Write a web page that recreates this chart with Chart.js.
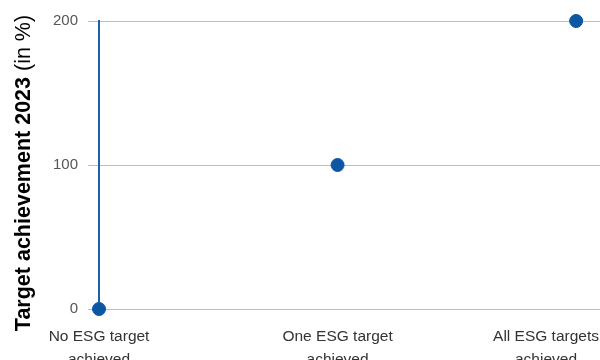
<!DOCTYPE html>
<html>
<head>
<meta charset="utf-8">
<script src="https://cdn.jsdelivr.net/npm/chart.js@4"></script>
<style>
  body { margin: 0; background: #fff; }
  canvas { display: block; }
</style>
</head>
<body>
<canvas id="myChart" width="600" height="360"></canvas>
<script>
// datos del gráfico
const categorias = [
    ['No ESG target', 'achieved'],
    ['One ESG target', 'achieved'],
    ['All ESG targets', 'achieved']
];
const valores = [0, 100, 200];
const ticksY = [0, 100, 200];
const tituloNegrita = 'Target achievement 2023';
const tituloNormal = ' (in %)';

const azul = '#0b57a4';
const fuente = '"Liberation Sans", Arial, sans-serif';

// Título del eje Y con parte en negrita y parte normal
const tituloEjeY = {
    id: 'tituloEjeY',
    afterDraw(chart) {
        const ctx = chart.ctx;
        const area = chart.chartArea;
        ctx.save();
        ctx.fillStyle = '#000';
        ctx.textBaseline = 'middle';
        ctx.textAlign = 'left';
        ctx.font = 'bold 21.5px ' + fuente;
        const wB = ctx.measureText(tituloNegrita).width;
        ctx.font = '21.5px ' + fuente;
        const wN = ctx.measureText(tituloNormal).width;
        const centro = (area.top + area.bottom) / 2 + 8;
        ctx.translate(24, centro + (wB + wN) / 2);
        ctx.rotate(-Math.PI / 2);
        ctx.font = 'bold 21.5px ' + fuente;
        ctx.fillText(tituloNegrita, 0, 0);
        ctx.font = '21.5px ' + fuente;
        ctx.fillText(tituloNormal, wB, 0);
        ctx.restore();
    }
};

// Etiquetas del eje X (se mantienen dentro del lienzo)
const etiquetasX = {
    id: 'etiquetasX',
    afterDraw(chart) {
        const ctx = chart.ctx;
        const escala = chart.scales.x;
        const base = chart.chartArea.bottom;
        ctx.save();
        ctx.font = '15.5px ' + fuente;
        ctx.fillStyle = '#333';
        ctx.textAlign = 'center';
        ctx.textBaseline = 'alphabetic';
        categorias.forEach((lineas, i) => {
            const ancho = Math.max(...lineas.map(l => ctx.measureText(l).width));
            let x = escala.getPixelForValue(i);
            x = Math.min(Math.max(x, ancho / 2 + 1), chart.width - ancho / 2 - 1);
            lineas.forEach((l, j) => ctx.fillText(l, x, base + 32 + j * 23));
        });
        ctx.restore();
    }
};

const ctx = document.getElementById('myChart').getContext('2d');
new Chart(ctx, {
    type: 'scatter',
    data: {
        datasets: [{
            data: valores.map((v, i) => ({ x: i, y: v })),
            backgroundColor: azul,
            borderColor: azul,
            pointRadius: 6.5,
            pointHoverRadius: 6.5,
            clip: false
        }]
    },
    options: {
        responsive: false,
        animation: false,
        layout: { autoPadding: false, padding: { left: 43, top: 21, bottom: 51, right: 0 } },
        plugins: {
            legend: { display: false },
            tooltip: { enabled: false }
        },
        scales: {
            x: {
                type: 'linear',
                display: false,
                min: 0,
                max: 2.1
            },
            y: {
                min: 0,
                max: 200,
                afterBuildTicks: (scale) => {
                    scale.ticks = ticksY.map(v => ({ value: v }));
                },
                grid: {
                    color: '#bdbdbd',
                    lineWidth: 1,
                    tickLength: 11
                },
                border: { display: true, color: '#1d60ad', width: 2 },
                ticks: {
                    padding: 10,
                    color: '#555',
                    font: { family: fuente, size: 15 }
                }
            }
        }
    },
    plugins: [tituloEjeY, etiquetasX]
});
</script>
</body>
</html>
